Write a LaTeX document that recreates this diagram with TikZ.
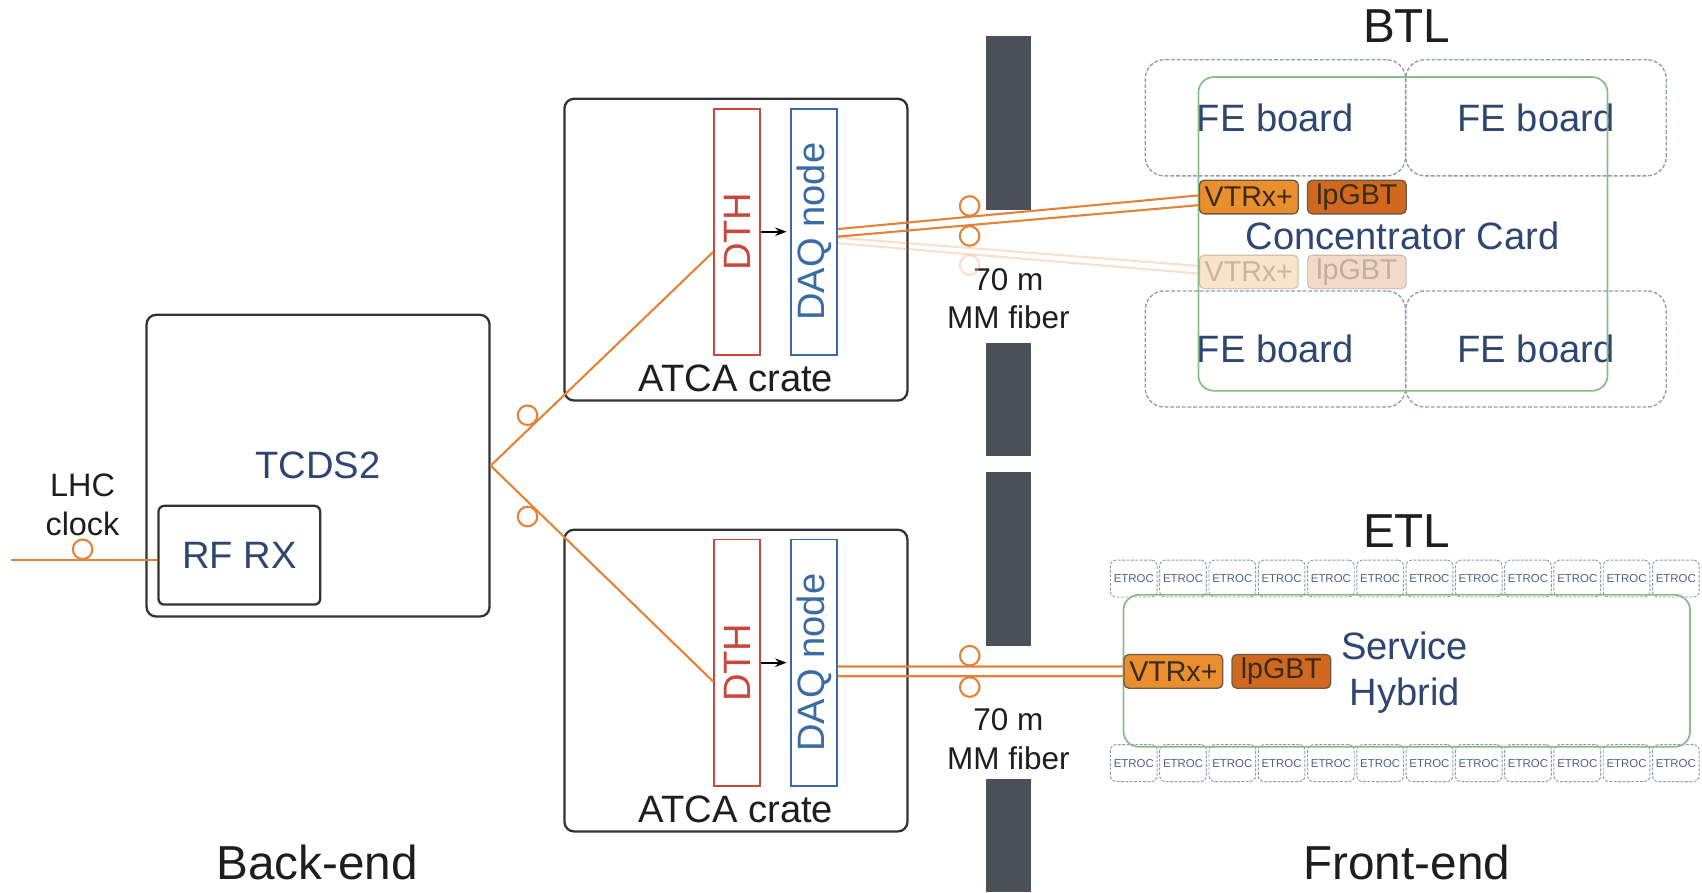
\documentclass[tikz,border=0pt]{standalone}
\usepackage{fontspec}
\setmainfont{Liberation Sans}
\usepackage{xcolor}
\usepackage{graphicx}
\usetikzlibrary{
    positioning,
    calc,
    arrows.meta
}
\definecolor{FiberOrange}{HTML}{E5823A}
\definecolor{LabelBlue}{HTML}{2D4770}
\definecolor{NoteBlack}{HTML}{1E1E1E}
\definecolor{CrateGray}{HTML}{333333}
\definecolor{WallGray}{HTML}{4B4F58}
\definecolor{DthRed}{HTML}{C9483E}
\definecolor{DaqBlue}{HTML}{3B6BA5}
\definecolor{CardGreen}{HTML}{86BD84}
\definecolor{BoardGray}{HTML}{8E9BB0}
\definecolor{EtrocBlue}{HTML}{4D6285}
\definecolor{VtrxFill}{HTML}{E98F2E}
\definecolor{GbtFill}{HTML}{D0691F}
\definecolor{ChipEdge}{HTML}{6B5A48}
\definecolor{ChipText}{HTML}{3A2A1C}

\newcommand{\headfont}{\fontsize{25}{30}\selectfont}
\newcommand{\boxfont}{\fontsize{20}{24}\selectfont}
\newcommand{\notefont}{\fontsize{16.5}{20}\selectfont}
\newcommand{\chipfont}{\fontsize{15}{18}\selectfont}
\newcommand{\etrocfont}{\fontsize{6}{7}\selectfont}

\tikzset{
    crate/.style={draw=CrateGray, line width=1.2pt, rounded corners=5pt,
        minimum width=6.32cm, minimum height=5.56cm, inner sep=0pt},
    rxbox/.style={draw=CrateGray, line width=1.2pt, rounded corners=3pt,
        minimum width=2.98cm, minimum height=1.82cm,
        font=\boxfont, text=LabelBlue},
    slotbox/.style={line width=1pt, minimum width=0.84cm,
        minimum height=4.54cm, inner sep=0pt, font=\boxfont},
    feboard/.style={draw=BoardGray, dash pattern=on 2pt off 1pt,
        line width=0.7pt, rounded corners=10pt,
        minimum width=4.8cm, minimum height=2.14cm,
        font=\boxfont, text=LabelBlue},
    card/.style={draw=CardGreen, line width=0.9pt, rounded corners=8pt,
        inner sep=0pt},
    chip/.style={draw=ChipEdge, line width=0.7pt, rounded corners=2.5pt,
        minimum width=1.82cm, minimum height=0.62cm, inner sep=0pt,
        font=\chipfont, text=ChipText},
    etroc/.style={draw=BoardGray, dash pattern=on 1.5pt off 0.8pt,
        line width=0.5pt, rounded corners=3pt,
        minimum width=0.86cm, minimum height=0.68cm, inner sep=0pt,
        font=\etrocfont, text=EtrocBlue},
    fiber/.style={draw=FiberOrange, line width=1.1pt},
    ring/.style={circle, draw=FiberOrange, fill=white, line width=1.1pt,
        inner sep=0pt, minimum size=0.36cm},
    note/.style={align=center, text=NoteBlack, font=\notefont},
    heading/.style={font=\headfont, text=NoteBlack}
}

\begin{document}
\begin{tikzpicture}[x=0.02cm, y=-0.02cm]
    \useasboundingbox (0,0) rectangle (1568,822);

    % wall between back-end and front-end
    \foreach \ya/\yb in {33/193, 316/420, 435/595, 718/822}
        \fill[WallGray] (908,\ya) rectangle (950,\yb);

    % back-end
    \node[crate, font=\boxfont, text=LabelBlue] (tcds) at (293,429) {TCDS2};
    \node[rxbox] (rfrx) at (220.5,511.5) {RF RX};
    \node[note, font=\fontsize{17}{20.5}\selectfont] (lhc) at (76,465) {LHC\\clock};
    \coordinate (lhcin) at (10,516);

    \node[crate] (crateA) at (678,230) {};
    \node[slotbox, draw=DthRed, text=DthRed] (dthA) at (679,213.5) {\rotatebox{90}{DTH}};
    \node[slotbox, draw=DaqBlue, text=DaqBlue] (daqA) at (750,213.5) {\rotatebox{90}{DAQ node}};
    \node[note, font=\boxfont, inner sep=0pt, above=0.18cm of crateA.south] (crateAname) {ATCA crate};

    \node[crate] (crateB) at (678,627) {};
    \node[slotbox, draw=DthRed, text=DthRed] (dthB) at (679,610.5) {\rotatebox{90}{DTH}};
    \node[slotbox, draw=DaqBlue, text=DaqBlue] (daqB) at (750,610.5) {\rotatebox{90}{DAQ node}};
    \node[note, font=\boxfont, inner sep=0pt, above=0.18cm of crateB.south] (crateBname) {ATCA crate};

    \draw[-{Stealth[length=6pt]}, line width=0.9pt, shorten >=2pt] (dthA.east) -- (daqA.west);
    \draw[-{Stealth[length=6pt]}, line width=0.9pt, shorten >=2pt] (dthB.east) -- (daqB.west);

    \node[note] (fiberA) at (929,275) {70 m\\MM fiber};
    \node[note] (fiberB) at (929,681) {70 m\\MM fiber};

    % BTL
    \node[heading] (btl) at (1296,24) {BTL};
    \node[feboard] (feA) at (1175,108.5) {FE board};
    \node[feboard] (feB) at (1415,108.5) {FE board};
    \node[feboard] (feC) at (1175,321.5) {FE board};
    \node[feboard] (feD) at (1415,321.5) {FE board};
    \node[card, minimum width=7.54cm, minimum height=5.78cm] (cc) at (1292.5,215.5) {};
    \node[font=\boxfont, text=LabelBlue] (ccname) at (1292,217) {Concentrator Card};
    \node[chip, fill=VtrxFill] (vtrxA) at (1150.5,181.5) {VTRx+};
    \node[chip, fill=GbtFill] (gbtA) at (1250,181.5) {lpGBT};
    \begin{scope}[opacity=0.25]
        \node[chip, fill=VtrxFill] (vtrxF) at (1150.5,250.5) {VTRx+};
        \node[chip, fill=GbtFill] (gbtF) at (1250,250.5) {lpGBT};
        \draw[fiber] ([yshift=-0.11cm]daqA.east) -- ([yshift=0.11cm]vtrxF.west);
        \draw[fiber] ([yshift=-0.21cm]daqA.east) -- node[ring, pos=.365, anchor=north] {} ([yshift=-0.03cm]vtrxF.west);
    \end{scope}

    % ETL
    \node[heading] (etl) at (1296,489) {ETL};
    \foreach \i in {0,...,11} {
        \node[etroc] (etrocT\i) at ({1044.5+45.4*\i},533) {ETROC};
        \node[etroc] (etrocB\i) at ({1044.5+45.4*\i},703) {ETROC};
    }
    \node[card, minimum width=10.44cm, minimum height=2.8cm] (sh) at (1296,618) {};
    \node[font=\boxfont, text=LabelBlue, align=center] (shname) at (1294,620) {Service\\Hybrid};
    \node[chip, fill=VtrxFill] (vtrxB) at (1081,618.5) {VTRx+};
    \node[chip, fill=GbtFill] (gbtB) at (1180.5,618.5) {lpGBT};

    % fibers
    \draw[fiber] (lhcin) -- node[ring, pos=.49, anchor=south] {} (lhcin -| rfrx.west);
    \draw[fiber] (tcds.east) -- node[ring, pos=.2, anchor=south east] {} ([yshift=-0.37cm]dthA.west);
    \draw[fiber] (tcds.east) -- node[ring, pos=.2, anchor=north east] {} ([yshift=-0.35cm]dthB.west);
    \draw[fiber] ([yshift=0.05cm]daqA.east) -- node[ring, pos=.365, anchor=south] {} ([yshift=0.03cm]vtrxA.west);
    \draw[fiber] ([yshift=-0.09cm]daqA.east) -- node[ring, pos=.365, anchor=north] {} ([yshift=-0.15cm]vtrxA.west);
    \draw[fiber] ([yshift=-0.07cm]daqB.east) -- node[ring, pos=.462, anchor=south] {} ([yshift=0.09cm]vtrxB.west);
    \draw[fiber] ([yshift=-0.25cm]daqB.east) -- node[ring, pos=.462, anchor=north] {} ([yshift=-0.09cm]vtrxB.west);

    \node[heading] (backend) at (292,795) {Back-end};
    \node[heading] (frontend) at (1296,795) {Front-end};
\end{tikzpicture}
\end{document}
